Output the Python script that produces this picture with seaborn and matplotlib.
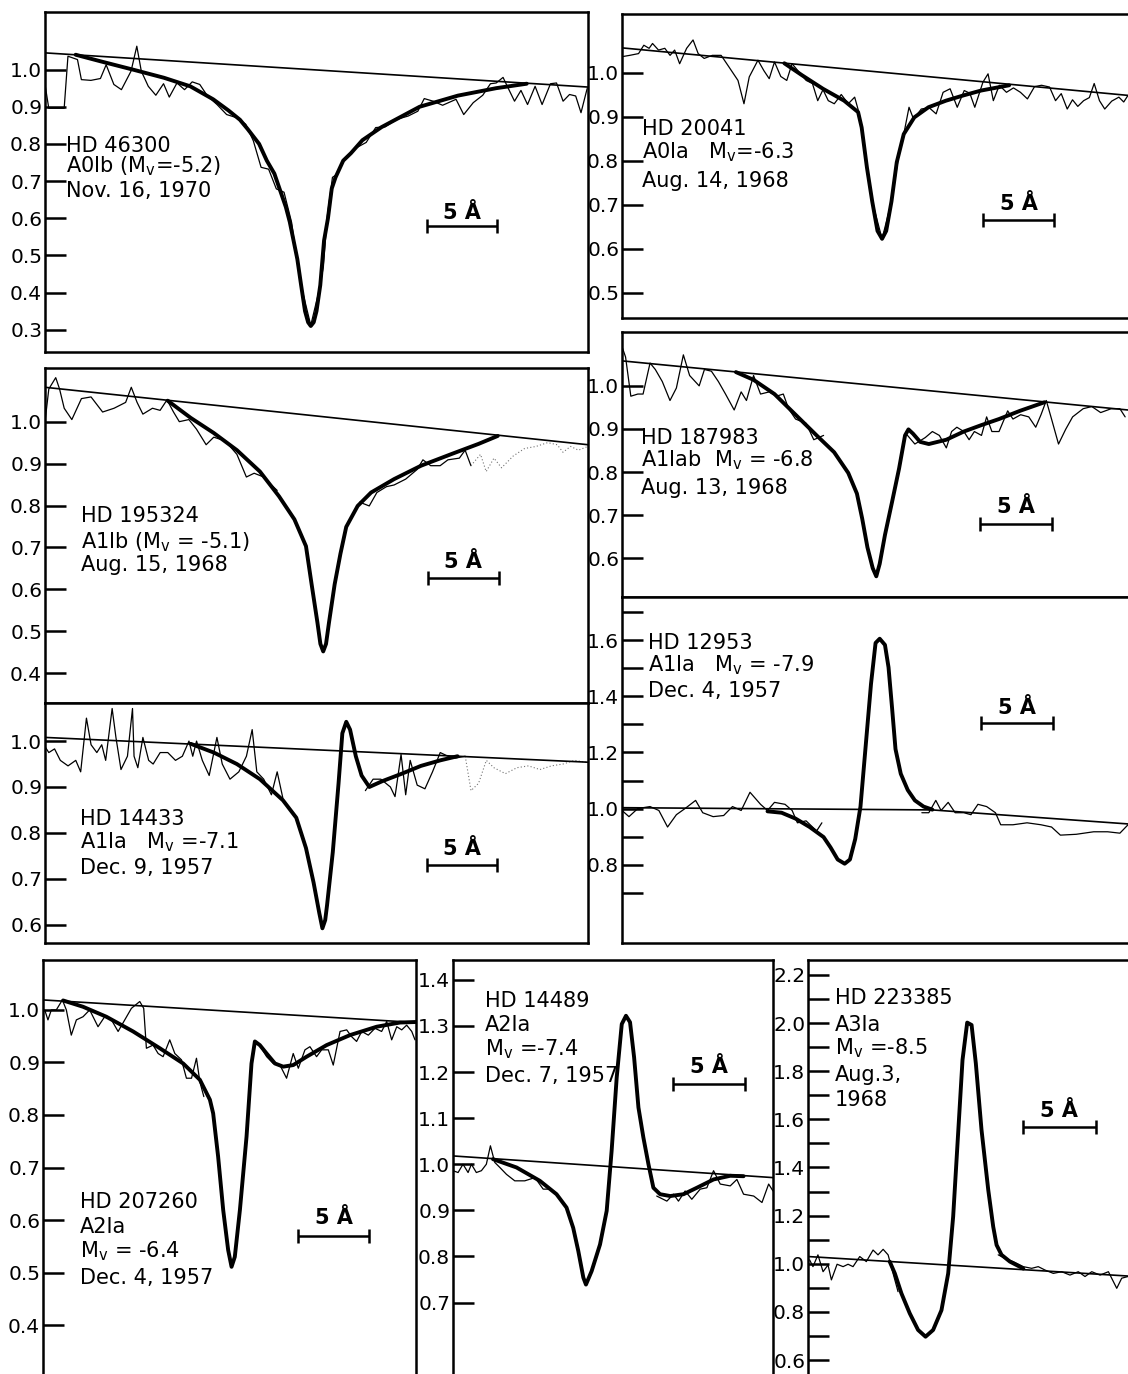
import numpy as np
import matplotlib
matplotlib.use("Agg")
import matplotlib.pyplot as plt
import seaborn as sns

nan = np.nan

obs_46300 = [(0.00,0.960),(0.27,0.896),(1.37,0.896),(1.64,1.036),(2.32,1.027),(2.60,0.973),(3.28,0.971),
             (3.96,0.976),(4.37,1.013),(4.92,0.960),(5.46,0.946),(6.15,0.996),(6.56,1.063),(6.88,0.996),
             (7.38,0.955),(7.92,0.931),(8.47,0.962),(8.88,0.926),(9.43,0.964),(9.97,0.946),(10.52,0.967),
             (11.06,0.960),(11.61,0.929),(12.29,0.906),(12.98,0.879),(13.66,0.871),(14.34,0.853),(14.89,0.808),
             (15.44,0.737),(15.98,0.732),(16.53,0.679),(17.08,0.670),(17.62,0.589),(17.98,0.491),(18.44,0.397),
             (18.99,0.312),(19.53,0.397),(19.89,0.469),(20.16,0.603),(20.54,0.710),(20.90,0.719),(21.45,0.763),
             (22.27,0.790),(22.95,0.804),(23.63,0.844),(24.31,0.846),(25.13,0.866),(25.95,0.875),(26.64,0.888),
             (27.10,0.922),(27.73,0.915),(28.41,0.904),(29.37,0.920),(29.92,0.879),(30.60,0.911),(31.28,0.931),
             (31.83,0.962),(32.24,0.964),(32.73,0.979),(33.11,0.949),(33.55,0.915),(34.01,0.944),(34.48,0.906),
             (35.02,0.955),(35.52,0.906),(36.12,0.962),(36.55,0.964),(37.02,0.915),(37.48,0.933),(37.92,0.929),
             (38.30,0.884),(38.74,0.949)]
fit_46300 = [(2.19,1.040),(4.00,1.022),(6.28,1.000),(8.50,0.978),(10.38,0.955),(12.02,0.920),(13.11,0.890),
             (13.93,0.865),(14.48,0.840),(15.30,0.800),(15.85,0.755),(16.39,0.720),(17.21,0.630),(17.49,0.590),
             (18.03,0.490),(18.30,0.420),(18.58,0.350),(18.80,0.320),(18.99,0.310),(19.20,0.320),(19.40,0.350),
             (19.67,0.420),(19.94,0.540),(20.22,0.600),(20.49,0.680),(20.76,0.710),(21.31,0.755),(21.86,0.775),
             (22.68,0.810),(24.04,0.845),(26.77,0.900),(29.51,0.930),(32.24,0.950),(34.42,0.962)]
cont_46300 = [(0.0,1.045),(38.8,0.953)]

obs_20041 = [(0.00,1.037),(0.54,1.040),(1.16,1.044),(1.53,1.063),(1.90,1.056),(2.14,1.067),(2.56,1.052),
             (3.00,1.056),(3.37,1.040),(3.69,1.052),(4.04,1.021),(4.53,1.056),(4.98,1.075),(5.34,1.044),
             (5.76,1.033),(6.33,1.040),(6.95,1.040),(7.49,1.014),(8.13,0.983),(8.55,0.930),(8.92,0.991),
             (9.53,1.029),(9.95,1.005),(10.32,0.987),(10.69,1.025),(11.13,0.992),(11.55,0.983),(11.92,1.021),
             (12.41,1.002),(12.91,0.983),(13.35,0.976),(13.72,0.937),(14.09,0.962),(14.46,0.937),(14.88,0.930),
             (15.37,0.951),(15.86,0.930),(16.31,0.945),(16.60,0.911),(16.85,0.869),(17.17,0.785),(17.54,0.708),
             (18.23,0.623),(18.89,0.708),(19.38,0.808),(19.80,0.869),(20.12,0.922),(20.44,0.895),(20.98,0.918),
             (21.53,0.921),(22.02,0.907),(22.51,0.956),(23.00,0.964),(23.50,0.922),(23.99,0.960),(24.38,0.954),
             (24.73,0.922),(25.30,0.979),(25.66,0.998),(26.03,0.937),(26.45,0.972),(26.95,0.956),(27.44,0.966),
             (27.93,0.956),(28.42,0.941),(28.92,0.969),(29.41,0.972),(29.97,0.968),(30.39,0.937),(30.79,0.953),
             (31.21,0.918),(31.58,0.939),(31.95,0.924),(32.36,0.937),(32.76,0.944),(33.10,0.976),(33.47,0.937),
             (33.84,0.918),(34.33,0.936),(34.83,0.945),(35.17,0.934),(35.47,0.949)]
fit_20041 = [(11.38,1.022),(12.61,0.995),(14.09,0.964),(15.57,0.937),(16.55,0.911),(16.80,0.876),(17.17,0.785),
             (17.54,0.708),(17.91,0.641),(18.23,0.623),(18.52,0.641),(18.89,0.708),(19.26,0.797),(19.75,0.861),
             (20.49,0.899),(21.48,0.922),(22.71,0.937),(23.94,0.949),(25.17,0.960),(27.14,0.972)]
cont_20041 = [(0.0,1.057),(35.47,0.949)]

obs_195324 = [(0.00,1.000),(0.27,1.078),(0.76,1.105),(1.03,1.078),(1.36,1.032),(1.90,1.005),(2.58,1.055),
              (3.26,1.059),(4.08,1.023),(4.89,1.032),(5.71,1.046),(6.11,1.082),(6.52,1.046),(6.93,1.018),
              (7.61,1.032),(8.15,1.027),(8.64,1.052),(9.10,1.023),(9.51,1.000),(10.19,1.005),(10.73,0.982),
              (11.41,0.945),(11.95,0.963),(12.77,0.954),(13.59,0.922),(14.26,0.868),(14.81,0.877),(15.49,0.868),
              (16.03,0.849),(16.44,0.836),(16.60,nan),(22.28,0.808),(22.96,0.799),(23.50,0.831),(24.18,0.845),
              (24.72,0.849),(25.54,0.863),(26.35,0.886),(26.76,0.909),(27.31,0.895),(27.98,0.895),(28.53,0.909),
              (29.34,0.913),(29.75,0.932),(30.16,0.895),(30.84,0.922),(31.24,0.881),(31.79,0.913),(32.33,0.890),
              (33.15,0.918),(33.96,0.936),(34.78,0.941),(35.59,0.950),(36.27,0.945),(36.68,0.927),(37.22,0.941),
              (37.77,0.932),(38.45,0.941)]
fit_195324 = [(8.69,1.050),(10.32,1.009),(11.95,0.973),(13.59,0.932),(15.22,0.881),(16.57,0.822),(17.66,0.767),
              (18.48,0.703),(18.88,0.612),(19.29,0.521),(19.50,0.470),(19.70,0.452),(19.90,0.470),(20.11,0.521),
              (20.51,0.612),(20.92,0.685),(21.33,0.749),(22.14,0.799),(23.09,0.831),(24.72,0.863),(26.63,0.895),
              (28.80,0.923),(30.70,0.947),(32.06,0.966)]
cont_195324 = [(0.0,1.082),(38.45,0.945)]

obs_14433 = [(0.00,0.988),(0.27,0.975),(0.68,0.983),(1.09,0.958),(1.64,0.946),(2.19,0.958),(2.54,0.933),
             (2.95,1.050),(3.28,0.992),(3.69,0.975),(4.04,0.992),(4.32,0.958),(4.78,1.071),(5.05,1.008),
             (5.41,0.938),(5.87,0.967),(6.23,1.071),(6.34,0.967),(6.61,0.942),(6.97,1.008),(7.38,0.958),
             (7.70,0.950),(8.20,0.975),(8.74,0.975),(9.29,0.958),(9.78,0.967),(10.25,1.000),(10.52,0.967),
             (10.79,1.000),(11.20,0.958),(11.69,0.925),(12.24,1.008),(12.62,0.950),(13.17,0.917),(13.80,0.933),
             (14.34,0.967),(14.75,1.025),(15.08,0.933),(15.57,0.917),(16.12,0.883),(16.53,0.933),(16.94,0.875),
             (17.00,nan),(22.81,0.892),(23.36,0.917),(23.91,0.917),(24.59,0.900),(24.92,0.879),(25.35,0.971),
             (25.68,0.883),(26.00,0.958),(26.50,0.904),(27.05,0.896),(27.59,0.933),(28.14,0.975),(28.69,0.967),
             (29.23,0.963),(29.92,0.967),(30.33,0.892),(30.87,0.908),(31.42,0.958),(31.96,0.942),(32.78,0.929),
             (33.60,0.942),(34.42,0.946),(35.24,0.938),(36.06,0.946),(36.88,0.950),(37.70,0.958),(38.52,0.954)]
fit_14433 = [(10.38,0.994),(12.02,0.975),(13.66,0.950),(15.30,0.917),(16.94,0.871),(17.89,0.833),(18.58,0.767),
             (19.12,0.692),(19.53,0.625),(19.75,0.592),(19.95,0.610),(20.08,0.642),(20.49,0.758),(20.90,0.908),
             (21.17,1.017),(21.45,1.042),(21.72,1.025),(22.13,0.967),(22.54,0.925),(23.09,0.900),(24.04,0.913),
             (25.41,0.929),(26.77,0.946),(28.14,0.958),(29.37,0.967)]
cont_14433 = [(0.0,1.008),(38.66,0.954)]

obs_187983 = [(0.00,1.091),(0.25,1.067),(0.62,0.976),(1.11,0.981),(1.48,0.981),(1.97,1.053),(2.34,1.038),
              (2.83,1.010),(3.37,0.966),(3.82,0.995),(4.31,1.072),(4.75,1.024),(5.42,1.000),(5.79,1.038),
              (6.28,1.034),(6.77,1.010),(7.27,0.981),(7.88,0.944),(8.37,0.986),(8.74,0.966),(9.24,1.024),
              (9.73,0.981),(10.34,0.986),(10.84,0.976),(11.33,0.981),(11.70,0.947),(12.19,0.923),(12.93,0.913),
              (13.47,0.875),(14.16,0.885),(14.30,nan),(19.95,0.889),(20.57,0.865),(21.30,0.880),(21.80,0.894),
              (22.29,0.885),(22.78,0.856),(23.15,0.894),(23.52,0.904),(24.01,0.894),(24.38,0.875),(24.75,0.894),
              (25.25,0.885),(25.61,0.928),(25.98,0.894),(26.48,0.894),(27.09,0.942),(27.46,0.923),(28.00,0.933),
              (28.57,0.928),(29.06,0.904),(29.43,0.933),(29.80,0.966),(30.17,0.923),(30.66,0.865),(31.16,0.899),
              (31.65,0.928),(32.39,0.947),(33.00,0.952),(33.62,0.938),(34.36,0.947),(34.97,0.947),(35.34,0.928)]
fit_187983 = [(8.00,1.032),(9.24,1.014),(10.71,0.981),(12.19,0.933),(13.67,0.885),(14.90,0.846),(15.89,0.798),
              (16.50,0.750),(16.87,0.692),(17.24,0.625),(17.61,0.577),(17.86,0.558),(18.10,0.587),(18.47,0.654),
              (18.97,0.731),(19.46,0.808),(19.88,0.885),(20.12,0.899),(20.44,0.889),(20.94,0.870),(21.55,0.865),
              (22.78,0.875),(24.01,0.894),(25.25,0.909),(26.48,0.923),(27.95,0.942),(29.68,0.962)]
cont_187983 = [(0.0,1.058),(35.54,0.944)]

obs_12953 = [(0.00,0.993),(0.49,0.971),(1.11,1.000),(1.97,1.007),(2.59,0.993),(3.20,0.934),(3.82,0.978),
             (4.43,1.000),(5.17,1.029),(5.67,0.985),(6.40,0.971),(7.14,0.975),(7.76,1.007),(8.37,0.993),
             (8.99,1.058),(9.73,1.015),(10.22,0.993),(10.71,1.022),(11.45,1.015),(11.95,0.993),(12.32,0.949),
             (12.93,0.956),(13.67,0.920),(14.04,0.949),(14.10,nan),(21.06,0.985),(21.55,0.985),(22.04,1.029),
             (22.41,0.993),(22.91,1.022),(23.40,0.985),(24.01,0.985),(24.51,0.978),(25.00,1.015),(25.61,1.007),
             (26.23,0.985),(26.60,0.942),(27.46,0.942),(28.45,0.949),(29.43,0.942),(30.17,0.934),(30.79,0.905),
             (31.90,0.908),(33.13,0.917),(34.11,0.917),(34.97,0.912),(35.54,0.942)]
fit_12953 = [(10.22,0.990),(11.21,0.985),(12.19,0.964),(13.18,0.934),(14.16,0.898),(14.65,0.861),(15.15,0.818),
             (15.64,0.803),(16.01,0.818),(16.38,0.891),(16.75,1.007),(17.12,1.226),(17.49,1.445),(17.81,1.591),
             (18.10,1.606),(18.47,1.584),(18.72,1.504),(18.97,1.358),(19.21,1.212),(19.58,1.124),(20.07,1.066),
             (20.57,1.029),(21.18,1.007),(21.80,0.996)]
cont_12953 = [(0.0,1.003),(21.8,0.995),(35.54,0.945)]

obs_207260 = [(0.12,1.000),(0.35,0.981),(0.59,1.000),(0.94,1.000),(1.37,1.019),(1.65,1.000),(2.00,0.952),
              (2.36,0.981),(2.83,0.987),(3.30,1.000),(3.89,0.968),(4.36,0.987),(4.84,0.981),(5.31,0.959),
              (5.78,0.981),(6.25,1.003),(6.84,1.016),(7.12,1.003),(7.31,0.927),(7.78,0.933),(8.14,0.917),
              (8.49,0.911),(8.96,0.943),(9.32,0.917),(9.79,0.905),(10.14,0.870),(10.50,0.870),(10.85,0.908),
              (11.09,0.863),(11.37,0.835),(11.50,nan),(15.22,0.937),(15.81,0.911),(16.28,0.898),(16.75,0.895),
              (17.22,0.870),(17.69,0.917),(18.05,0.889),(18.52,0.924),(18.87,0.930),(19.34,0.911),(19.70,0.924),
              (20.17,0.924),(20.52,0.895),(21.00,0.959),(21.47,0.962),(21.82,0.949),(22.17,0.940),(22.53,0.959),
              (23.00,0.952),(23.47,0.965),(23.94,0.959),(24.30,0.978),(24.65,0.943),(25.01,0.968),(25.36,0.962),
              (25.71,0.971),(26.07,0.959),(26.30,0.943)]
fit_207260 = [(1.42,1.018),(2.83,1.006),(4.48,0.987),(6.37,0.959),(8.26,0.927),(9.91,0.898),(11.09,0.867),
              (11.80,0.829),(12.03,0.803),(12.38,0.721),(12.74,0.619),(13.09,0.543),(13.33,0.511),(13.56,0.530),
              (13.92,0.619),(14.39,0.759),(14.74,0.898),(14.98,0.940),(15.33,0.933),(15.81,0.917),(16.40,0.898),
              (16.98,0.892),(17.69,0.895),(18.64,0.911),(20.05,0.933),(21.70,0.952),(23.59,0.968),(25.24,0.976),
              (26.37,0.977)]
cont_207260 = [(0.0,1.019),(26.37,0.976)]

obs_14489 = [(0.00,0.986),(0.35,0.982),(0.69,1.000),(1.04,0.982),(1.27,1.000),(1.61,0.982),(1.96,0.986),
             (2.30,1.000),(2.58,1.040),(2.88,1.004),(3.23,0.993),(3.69,0.978),(4.26,0.964),(4.95,0.964),
             (5.65,0.971),(6.22,0.946),(6.68,0.946),(7.14,0.935),(7.20,nan),(14.05,0.931),(14.75,0.920),
             (15.21,0.935),(15.55,0.920),(16.01,0.942),(16.47,0.924),(17.05,0.946),(17.51,0.949),(17.97,0.986),
             (18.43,0.957),(19.12,0.953),(19.58,0.967),(20.04,0.935),(20.74,0.931),(21.31,0.917),(21.77,0.957),
             (22.07,0.942)]
fit_14489 = [(2.76,1.011),(4.38,0.993),(5.99,0.964),(7.14,0.935),(7.83,0.906),(8.29,0.862),(8.64,0.812),
             (8.99,0.754),(9.17,0.739),(9.56,0.768),(10.14,0.826),(10.60,0.899),(10.94,1.029),(11.29,1.188),
             (11.64,1.304),(11.93,1.322),(12.21,1.308),(12.49,1.232),(12.79,1.123),(13.13,1.058),(13.48,1.000),
             (13.82,0.949),(14.28,0.935),(14.98,0.931),(15.90,0.935),(16.82,0.949),(17.97,0.967),(19.12,0.975),
             (20.04,0.974)]
cont_14489 = [(0.0,1.018),(22.07,0.971)]

obs_223385 = [(0.11,1.016),(0.34,0.988),(0.68,1.037),(1.03,0.967),(1.37,0.995),(1.60,0.933),(1.99,0.998),
              (2.40,0.988),(2.74,0.998),(3.08,0.988),(3.54,1.030),(3.99,1.009),(4.45,1.057),(4.79,1.037),
              (5.14,1.060),(5.48,1.037),(5.82,0.960),(6.16,0.884),(6.20,nan),(13.01,1.037),(13.47,1.023),
              (14.04,1.009),(14.73,0.988),(15.30,0.981),(15.75,0.988),(16.21,0.974),(16.78,0.960),(17.35,0.967),
              (17.92,0.953),(18.49,0.967),(18.95,0.947),(19.41,0.967),(19.98,0.953),(20.55,0.967),(21.12,0.898),
              (21.46,0.940),(21.89,0.947)]
fit_223385 = [(5.59,1.009),(5.94,0.960),(6.39,0.877),(6.96,0.794),(7.53,0.725),(8.04,0.697),(8.56,0.725),
              (9.13,0.807),(9.59,0.960),(9.93,1.196),(10.27,1.542),(10.57,1.847),(10.89,2.002),(11.19,1.992),
              (11.48,1.833),(11.87,1.556),(12.33,1.307),(12.67,1.154),(12.90,1.078),(13.24,1.037),(13.81,1.009),
              (14.73,0.980)]
cont_223385 = [(0.0,1.030),(21.89,0.949)]

# ---- labels ----
labels_46300 = ["HD 46300", "A0Ib (M$_\\mathrm{v}$=-5.2)", "Nov. 16, 1970"]
labels_20041 = ["HD 20041", "A0Ia   M$_\\mathrm{v}$=-6.3", "Aug. 14, 1968"]
labels_195324 = ["HD 195324", "A1Ib (M$_\\mathrm{v}$ = -5.1)", "Aug. 15, 1968"]
labels_14433 = ["HD 14433", "A1Ia   M$_\\mathrm{v}$ =-7.1", "Dec. 9, 1957"]
labels_187983 = ["HD 187983", "A1Iab  M$_\\mathrm{v}$ = -6.8", "Aug. 13, 1968"]
labels_12953 = ["HD 12953", "A1Ia   M$_\\mathrm{v}$ = -7.9", "Dec. 4, 1957"]
labels_207260 = ["HD 207260", "A2Ia", "M$_\\mathrm{v}$ = -6.4", "Dec. 4, 1957"]
labels_14489 = ["HD 14489", "A2Ia", "M$_\\mathrm{v}$ =-7.4", "Dec. 7, 1957"]
labels_223385 = ["HD 223385", "A3Ia", "M$_\\mathrm{v}$ =-8.5", "Aug.3,", "1968"]

ticks_46300 = [0.3, 0.4, 0.5, 0.6, 0.7, 0.8, 0.9, 1.0]
ticks_20041 = [0.5, 0.6, 0.7, 0.8, 0.9, 1.0]
ticks_195324 = [0.4, 0.5, 0.6, 0.7, 0.8, 0.9, 1.0]
ticks_14433 = [0.6, 0.7, 0.8, 0.9, 1.0]
ticks_187983 = [0.6, 0.7, 0.8, 0.9, 1.0]
ticks_12953 = [0.7, 0.8, 0.9, 1.0, 1.1, 1.2, 1.3, 1.4, 1.5, 1.6, 1.7]
ticklabels_12953 = ["", "0.8", "", "1.0", "", "1.2", "", "1.4", "", "1.6", ""]
ticks_207260 = [0.4, 0.5, 0.6, 0.7, 0.8, 0.9, 1.0]
ticks_14489 = [0.7, 0.8, 0.9, 1.0, 1.1, 1.2, 1.3, 1.4]
ticks_223385 = [0.6, 0.7, 0.8, 0.9, 1.0, 1.1, 1.2, 1.3, 1.4, 1.5, 1.6, 1.7, 1.8, 1.9, 2.0, 2.1, 2.2]
ticklabels_223385 = ["0.6", "", "0.8", "", "1.0", "", "1.2", "", "1.4", "", "1.6", "", "1.8", "", "2.0", "", "2.2"]

SCALE_A = 5.0  # length of the wavelength scale bar

# ---- layout (pixel boxes: left, top, right, bottom) and placement ----
FIG_W, FIG_H = 1128, 1374
panels = [
    dict(obs=obs_46300, fit=fit_46300, cont=cont_46300, labels=labels_46300, ticks=ticks_46300,
         box=(45, 12, 588, 352), xlim=(0, 38.8), ylim=(0.24, 1.155),
         text_x=1.5, text_y=[0.795, 0.741, 0.674], bar=(27.3, 0.578, 0.615)),
    dict(obs=obs_20041, fit=fit_20041, cont=cont_20041, labels=labels_20041, ticks=ticks_20041,
         box=(622, 14, 1128, 318), xlim=(0, 35.47), ylim=(0.443, 1.134), open_right=True,
         text_x=1.4, text_y=[0.872, 0.819, 0.754], bar=(25.3, 0.666, 0.702)),
    dict(obs=obs_195324, fit=fit_195324, cont=cont_195324, labels=labels_195324, ticks=ticks_195324,
         box=(45, 368, 588, 703), xlim=(0, 38.45), ylim=(0.329, 1.128), dotted_from=30.16,
         text_x=2.58, text_y=[0.776, 0.712, 0.658], bar=(27.12, 0.626, 0.665)),
    dict(obs=obs_14433, fit=fit_14433, cont=cont_14433, labels=labels_14433, ticks=ticks_14433,
         box=(45, 703, 588, 943), xlim=(0, 38.66), ylim=(0.56, 1.083), dotted_from=29.92,
         text_x=2.5, text_y=[0.831, 0.779, 0.724], bar=(27.18, 0.729, 0.765)),
    dict(obs=obs_187983, fit=fit_187983, cont=cont_187983, labels=labels_187983, ticks=ticks_187983,
         box=(622, 332, 1128, 597), xlim=(0, 35.54), ylim=(0.51, 1.125), open_right=True,
         text_x=1.35, text_y=[0.880, 0.827, 0.764], bar=(25.17, 0.680, 0.718)),
    dict(obs=obs_12953, fit=fit_12953, cont=cont_12953, labels=labels_12953, ticks=ticks_12953,
         ticklabels=ticklabels_12953,
         box=(622, 597, 1128, 943), xlim=(0, 35.54), ylim=(0.52, 1.755), open_right=True,
         text_x=1.85, text_y=[1.591, 1.511, 1.419], bar=(25.25, 1.304, 1.36)),
    dict(obs=obs_207260, fit=fit_207260, cont=cont_207260, labels=labels_207260, ticks=ticks_207260,
         box=(43, 960, 416, 1374), xlim=(0, 26.37), ylim=(0.307, 1.095), open_bottom=True,
         text_x=2.6, text_y=[0.635, 0.587, 0.540, 0.489], bar=(18.05, 0.570, 0.603)),
    dict(obs=obs_14489, fit=fit_14489, cont=cont_14489, labels=labels_14489, ticks=ticks_14489,
         box=(453, 960, 773, 1374), xlim=(0, 22.07), ylim=(0.545, 1.443), open_bottom=True,
         text_x=2.2, text_y=[1.355, 1.301, 1.250, 1.192], bar=(15.16, 1.174, 1.21)),
    dict(obs=obs_223385, fit=fit_223385, cont=cont_223385, labels=labels_223385, ticks=ticks_223385,
         ticklabels=ticklabels_223385,
         box=(808, 960, 1128, 1374), xlim=(0, 21.89), ylim=(0.542, 2.262), open_right=True, open_bottom=True,
         text_x=1.83, text_y=[2.103, 1.992, 1.895, 1.784, 1.681], bar=(14.68, 1.567, 1.635)),
]


def to_axes_rect(l, t, r, b):
    return [l / FIG_W, 1 - b / FIG_H, (r - l) / FIG_W, (b - t) / FIG_H]


def trace(ax, pts, **kw):
    xs = np.array([p[0] for p in pts], dtype=float)
    ys = np.array([p[1] for p in pts], dtype=float)
    cuts = np.flatnonzero(np.isnan(ys))
    for sx, sy in zip(np.split(xs, cuts), np.split(ys, cuts)):
        keep = ~np.isnan(sy)
        if keep.sum() > 1:
            sns.lineplot(x=sx[keep], y=sy[keep], ax=ax, sort=False, estimator=None, **kw)


sns.set_style("ticks")
plt.rcParams['font.family'] = ['DejaVu Sans']
plt.rcParams['text.color'] = 'black'
plt.rcParams['axes.edgecolor'] = 'black'
plt.rcParams['ytick.color'] = 'black'
plt.rcParams['ytick.labelcolor'] = 'black'

fig = plt.figure(figsize=(FIG_W / 100, FIG_H / 100), dpi=100)

for p in panels:
    ax = fig.add_axes(to_axes_rect(*p['box']))

    # observed tracing: solid, then faint dotted part where the original record fades
    obs = p['obs']
    split = p.get('dotted_from')
    if split is None:
        trace(ax, obs, color='black', linewidth=0.9)
    else:
        trace(ax, [q for q in obs if q[0] <= split], color='black', linewidth=0.9)
        trace(ax, [q for q in obs if q[0] >= split], color='0.45', linewidth=0.8, linestyle=(0, (1, 2)))

    trace(ax, p['cont'], color='black', linewidth=1.2)
    trace(ax, p['fit'], color='black', linewidth=2.8, solid_capstyle='round', solid_joinstyle='round')

    # 5 Angstrom scale bar
    x0, yb, yt = p['bar']
    ax.errorbar(x0 + SCALE_A / 2, yb, xerr=SCALE_A / 2, fmt='none', ecolor='black',
                elinewidth=1.8, capsize=5, capthick=1.8)
    ax.text(x0 + SCALE_A / 2, yt, "5 Å", ha='center', va='center', fontsize=15, fontweight='bold')

    for line, ty in zip(p['labels'], p['text_y']):
        ax.text(p['text_x'], ty, line, ha='left', va='center', fontsize=15)

    ax.set_xlim(*p['xlim'])
    ax.set_ylim(*p['ylim'])
    ax.set_xticks([])
    ax.set_yticks(p['ticks'])
    ax.set_yticklabels(p.get('ticklabels', ["%.1f" % t for t in p['ticks']]))
    ax.tick_params(axis='y', direction='in', length=15, width=1.8, labelsize=14.5, pad=2)
    ax.set_xlabel("")
    ax.set_ylabel("")
    for side in ax.spines.values():
        side.set_linewidth(1.8)
    if p.get('open_right'):
        ax.spines['right'].set_visible(False)
    if p.get('open_bottom'):
        ax.spines['bottom'].set_visible(False)

fig.savefig("out.png", dpi=100, facecolor='white')
